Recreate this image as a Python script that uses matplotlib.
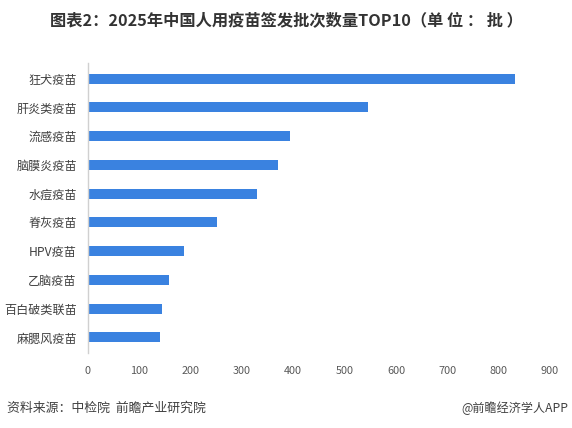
import matplotlib
matplotlib.use('Agg')
import matplotlib.pyplot as plt

plt.rcParams['font.family'] = ['Noto Sans CJK SC', 'DejaVu Sans']

# 2025年中国人用疫苗签发批次数量TOP10（单位：批）
vaccines = ['狂犬疫苗', '肝炎类疫苗', '流感疫苗', '脑膜炎疫苗', '水痘疫苗',
            '脊灰疫苗', 'HPV疫苗', '乙脑疫苗', '百白破类联苗', '麻腮风疫苗']
batches = [832, 545, 393, 371, 329, 251, 187, 158, 144, 140]
xticks = [0, 100, 200, 300, 400, 500, 600, 700, 800, 900]

fig = plt.figure(figsize=(5.72, 4.28), dpi=100)
ax = fig.add_axes([0.1538, 0.175, 0.8077, 0.678])

ypos = list(range(len(vaccines)))
ax.barh(ypos, batches, height=0.35, color='#3A82E0')
ax.set_yticks(ypos)
ax.set_yticklabels(vaccines, fontsize=8.7, color='#404040')
ax.invert_yaxis()
ax.set_ylim(9.55, -0.55)

ax.set_xlim(0, 900)
ax.set_xticks(xticks)
ax.set_xticklabels([str(t) for t in xticks], fontsize=7.8, color='#595959')
ax.tick_params(axis='both', length=0)
ax.tick_params(axis='x', pad=9)
ax.tick_params(axis='y', pad=8)

for side in ['top', 'right', 'bottom']:
    ax.spines[side].set_visible(False)
ax.spines['left'].set_color('#D0D0D0')
ax.spines['left'].set_linewidth(1.0)

fig.text(0.5, 0.953, '图表2：2025年中国人用疫苗签发批次数量TOP10（单 位 ： 批 ）',
         ha='center', va='center', fontsize=11.7, fontweight='bold', color='#333333')
fig.text(0.012, 0.047, '资料来源：中检院  前瞻产业研究院', ha='left', va='center',
         fontsize=9.3, color='#404040')
fig.text(0.993, 0.047, '@前瞻经济学人APP', ha='right', va='center',
         fontsize=8.7, color='#404040')

fig.savefig('out.png', dpi=100)
